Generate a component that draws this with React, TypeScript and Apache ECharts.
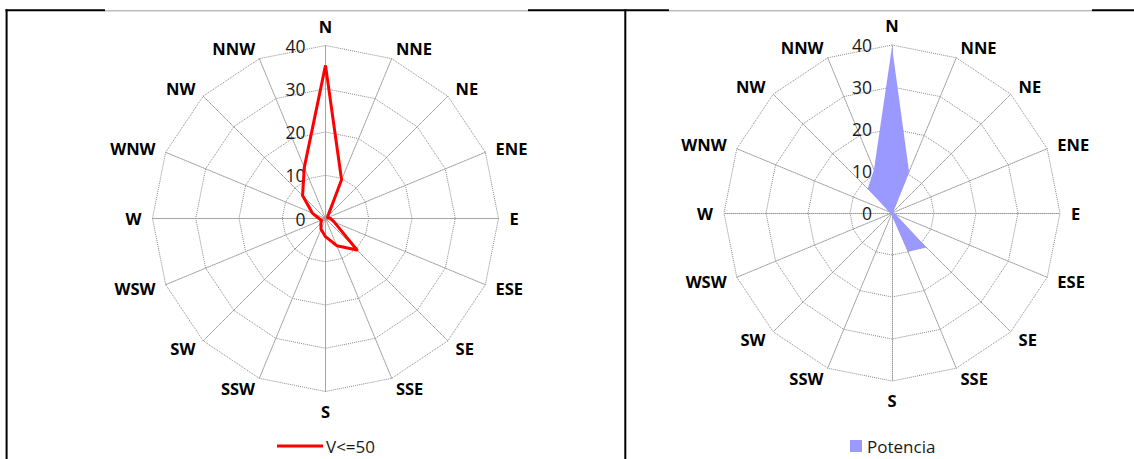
import React, { useEffect, useRef } from 'react';
import * as echarts from 'echarts';

// Wind directions, clockwise from North
const directions = ['N', 'NNE', 'NE', 'ENE', 'E', 'ESE', 'SE', 'SSE', 'S', 'SSW', 'SW', 'WSW', 'W', 'WNW', 'NW', 'NNW'];
// Frequency for V<=50 (clockwise from N)
const speedLow = [35.4, 9.7, 0.8, 0.5, 1.2, 2.2, 10.3, 6.8, 4.2, 2.7, 1.5, 1.0, 1.5, 3.3, 7.5, 12.8];
// Potencia (clockwise from N)
const power = [39.6, 10.6, 0.5, 0.3, 0.5, 1.0, 11.6, 10.0, 0.8, 0.3, 0.2, 0.2, 0.3, 0.8, 8.2, 11.2];
const axisMin = 0;
const axisMax = 40;
const axisSplits = 4; // ticks 0,10,20,30,40

const seriesLowName = 'V<=50';
const seriesPowerName = 'Potencia';

// ECharts radar lays indicators counter-clockwise; reorder to get clockwise compass
const ccw = <T,>(arr: T[]): T[] => [arr[0], ...arr.slice(1).reverse()];

const FONT = '"Open Sans", sans-serif';

function makeRadar(center: number[], radius: number) {
  const ringLine = { color: '#8a8a8a', type: 'dotted' as const, width: 1 };
  const spokeLine = { color: '#9a9a9a', type: 'dotted' as const, width: 1 };
  return {
    center,
    radius,
    startAngle: 90,
    shape: 'polygon' as const,
    splitNumber: axisSplits,
    nameGap: 11,
    axisName: { color: '#000', fontWeight: 'bold' as const, fontSize: 16.5, fontFamily: FONT },
    indicator: ccw(directions).map((d, i) => ({
      name: d,
      min: axisMin,
      max: axisMax,
      ...(i === 0
        ? {
            axisLabel: {
              show: true,
              color: '#1a1a1a',
              fontSize: 17.5,
              fontFamily: FONT,
              margin: 20,
              showMinLabel: true,
              showMaxLabel: true,
            },
          }
        : {}),
    })),
    axisLine: { show: true, lineStyle: spokeLine },
    splitLine: { show: true, lineStyle: ringLine },
    splitArea: { show: false },
    axisTick: { show: false },
    axisLabel: { show: false },
  };
}

export default function App() {
  const ref = useRef<HTMLDivElement>(null);
  useEffect(() => {
    if (!ref.current) return;
    const chart = echarts.init(ref.current, null, { renderer: 'svg' });
    const black = { stroke: '#000', lineWidth: 2 };
    chart.setOption({
      animation: false,
      backgroundColor: '#fff',
      radar: [makeRadar([325.5, 218.5], 173), makeRadar([892, 213], 168)],
      legend: [
        {
          data: [{ name: seriesLowName, icon: 'rect', itemStyle: { color: '#ff0000' } }],
          left: 277,
          top: 437,
          padding: 0,
          itemWidth: 46,
          itemHeight: 3,
          selectedMode: false,
          textStyle: { color: '#1a1a1a', fontSize: 17, lineHeight: 18, fontFamily: FONT, padding: [0, 0, 0, -2] },
        },
        {
          data: [{ name: seriesPowerName, icon: 'rect', itemStyle: { color: '#9999ff' } }],
          left: 850,
          top: 437,
          padding: 0,
          itemWidth: 12,
          itemHeight: 12,
          selectedMode: false,
          textStyle: { color: '#1a1a1a', fontSize: 17, lineHeight: 18, fontFamily: FONT },
        },
      ],
      series: [
        {
          type: 'radar',
          radarIndex: 0,
          name: seriesLowName,
          symbol: 'none',
          lineStyle: { color: '#ff0000', width: 3 },
          itemStyle: { color: '#ff0000' },
          data: [{ name: seriesLowName, value: ccw(speedLow) }],
        },
        {
          type: 'radar',
          radarIndex: 1,
          name: seriesPowerName,
          symbol: 'none',
          lineStyle: { width: 0, color: '#9999ff' },
          areaStyle: { color: '#9999ff', opacity: 1 },
          itemStyle: { color: '#9999ff' },
          data: [{ name: seriesPowerName, value: ccw(power) }],
        },
      ],
      graphic: [
        { type: 'line', shape: { x1: 5.5, y1: 10.3, x2: 105, y2: 10.3 }, style: black, silent: true },
        { type: 'line', shape: { x1: 105, y1: 10.8, x2: 528, y2: 10.8 }, style: { stroke: '#9a9a9a', lineWidth: 1 }, silent: true },
        { type: 'line', shape: { x1: 528, y1: 10.3, x2: 669, y2: 10.3 }, style: black, silent: true },
        { type: 'line', shape: { x1: 669, y1: 10.8, x2: 1092, y2: 10.8 }, style: { stroke: '#9a9a9a', lineWidth: 1 }, silent: true },
        { type: 'line', shape: { x1: 1092, y1: 10.3, x2: 1134, y2: 10.3 }, style: black, silent: true },
        { type: 'line', shape: { x1: 6.6, y1: 9.3, x2: 6.6, y2: 459 }, style: black, silent: true },
        { type: 'line', shape: { x1: 625.3, y1: 9.3, x2: 625.3, y2: 459 }, style: black, silent: true },
      ],
    });
    return () => chart.dispose();
  }, []);
  return <div ref={ref} style={{ position: 'fixed', left: 0, top: 0, width: 1134, height: 459 }} />;
}
